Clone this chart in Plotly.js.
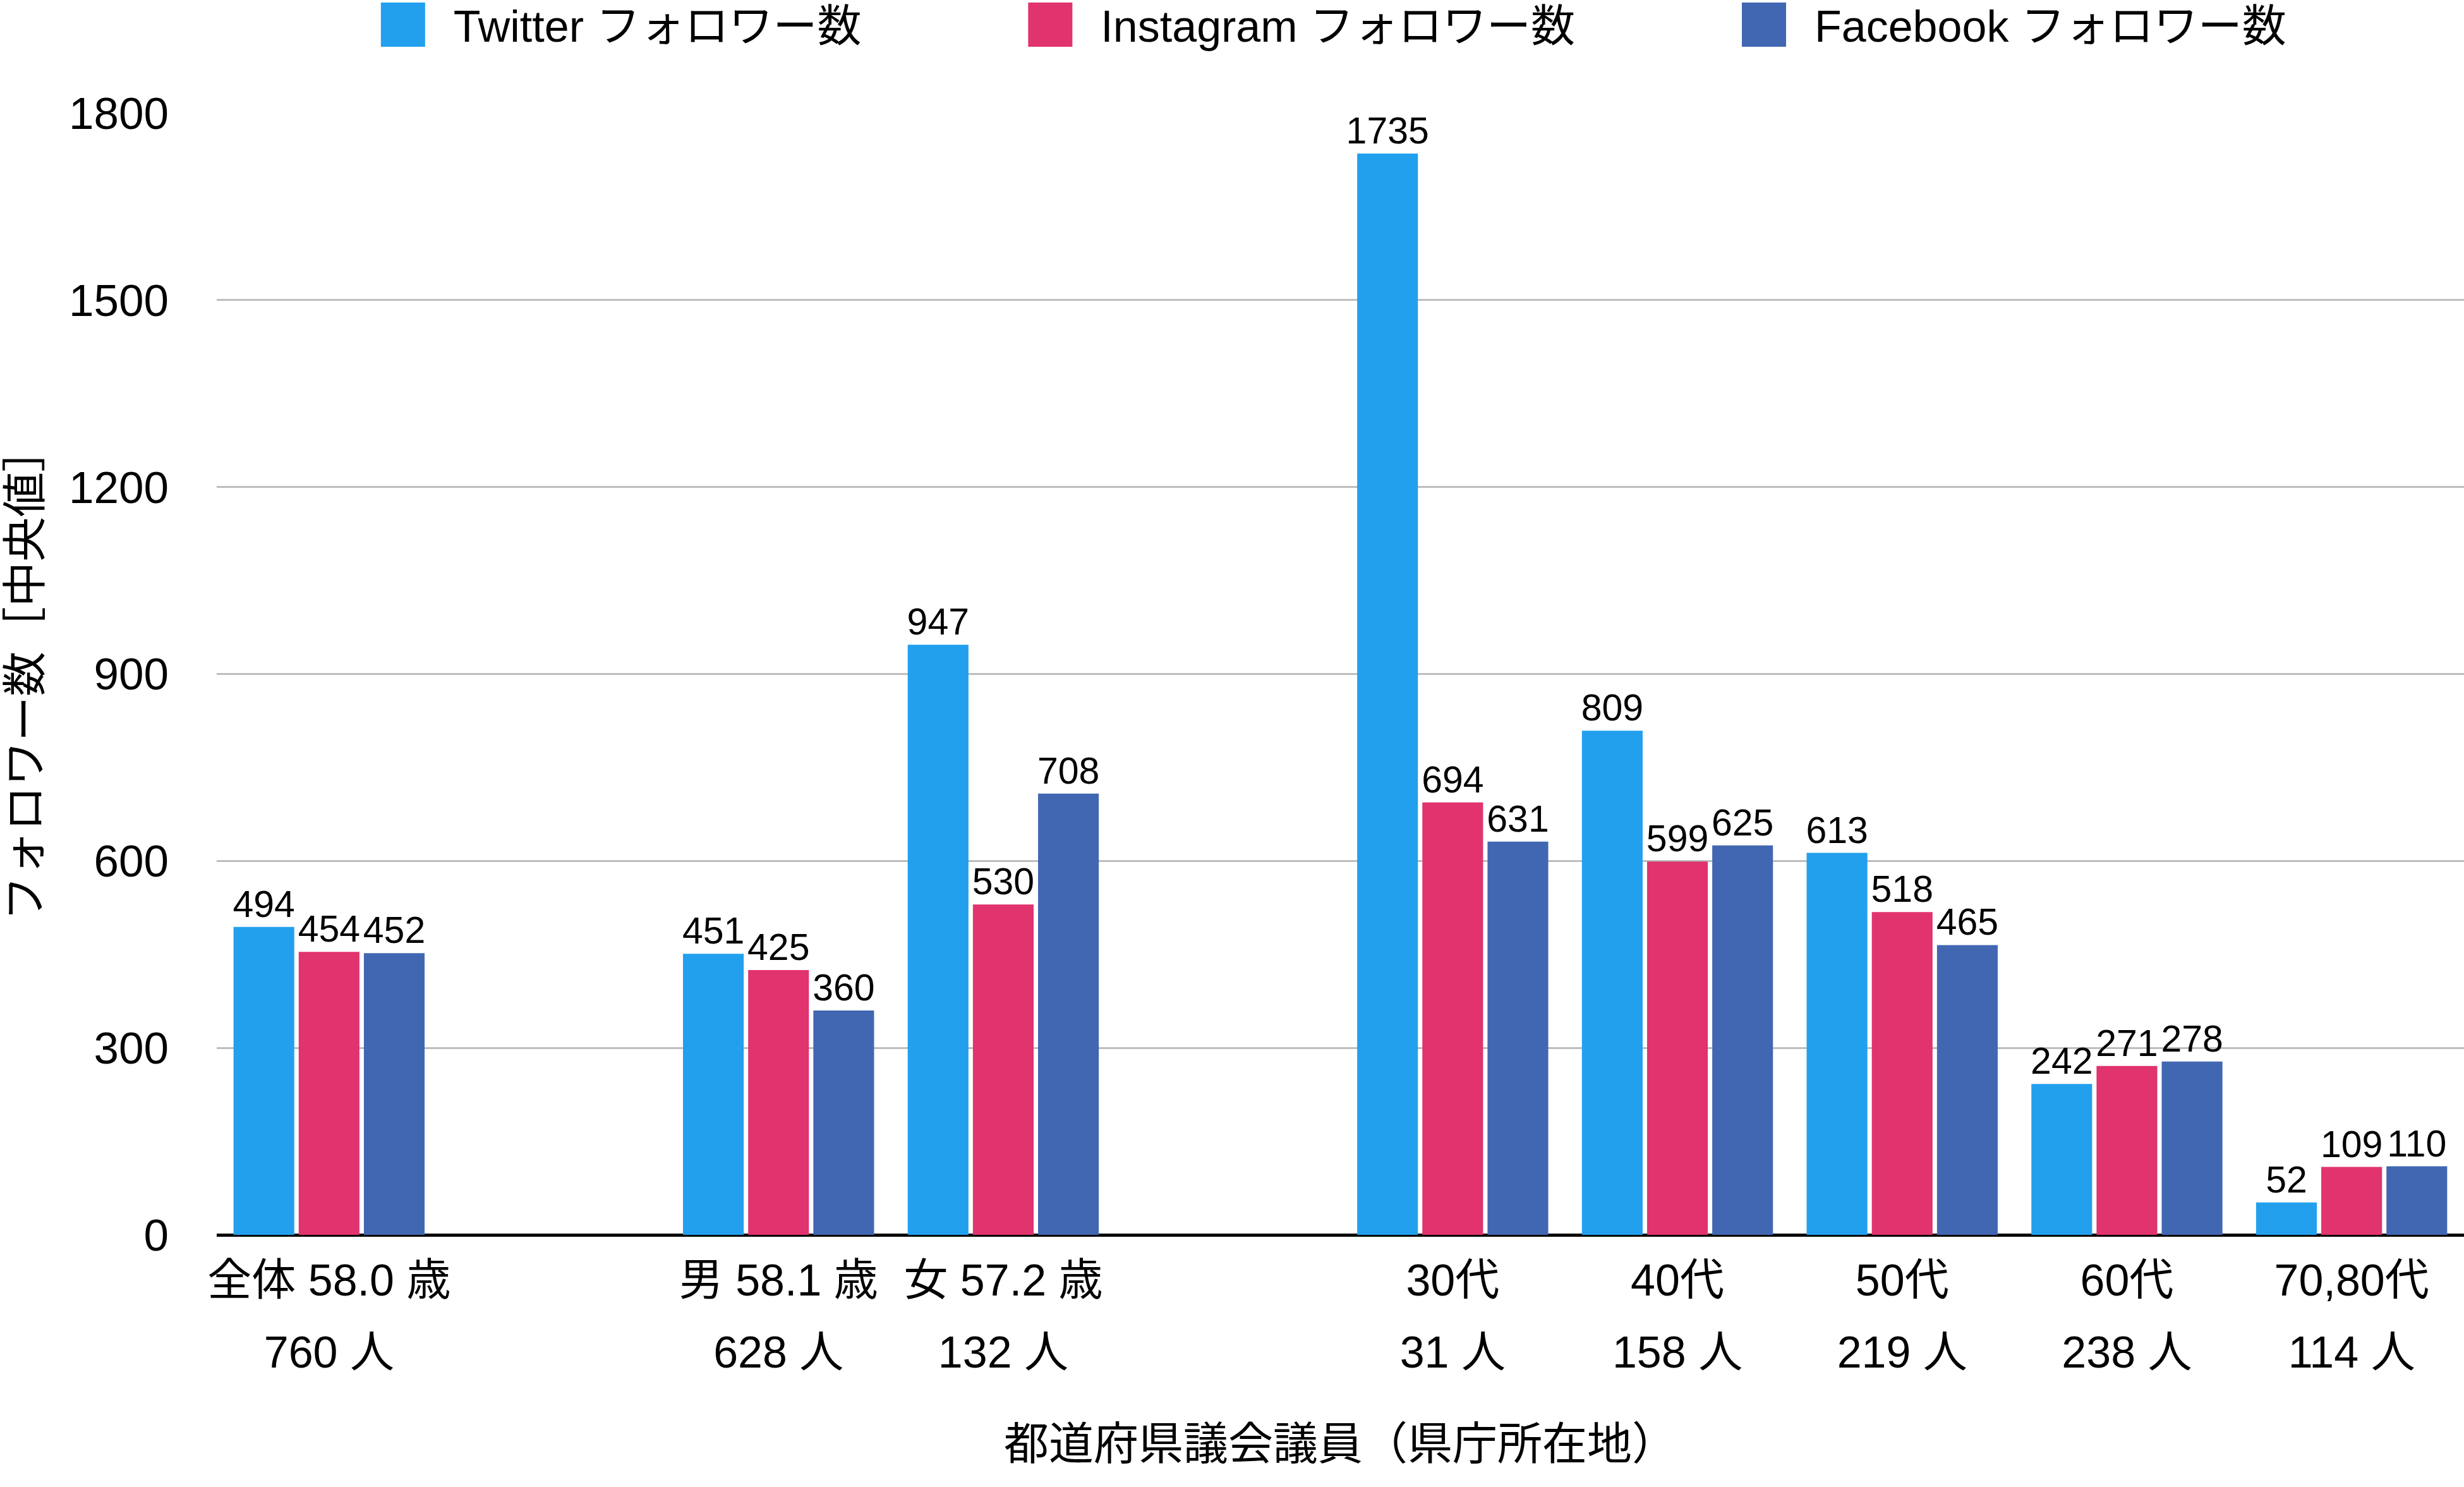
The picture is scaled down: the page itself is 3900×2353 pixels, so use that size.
<!DOCTYPE html>
<html>
<head>
<meta charset="utf-8">
<script src="https://cdn.plot.ly/plotly-3.0.1.min.js"></script>
<style>
  html, body { margin: 0; padding: 0; background: #ffffff; }
  #chart { width: 3900px; height: 2353px; }
</style>
</head>
<body>
<div id="chart"></div>
<script>
// ---- data ----
const categoryKeys = ['全体', 'gap1', '男', '女', 'gap2', '30代', '40代', '50代', '60代', '70,80代'];
const labelLine1   = ['全体 58.0 歳', '', '男 58.1 歳', '女 57.2 歳', '', '30代', '40代', '50代', '60代', '70,80代'];
const labelLine2   = ['760 人', '', '628 人', '132 人', '', '31 人', '158 人', '219 人', '238 人', '114 人'];

const twitterFollowers   = [494, null, 451, 947, null, 1735, 809, 613, 242, 52];
const instagramFollowers = [454, null, 425, 530, null, 694, 599, 518, 271, 109];
const facebookFollowers  = [452, null, 360, 708, null, 631, 625, 465, 278, 110];

const seriesNames  = ['Twitter フォロワー数', 'Instagram フォロワー数', 'Facebook フォロワー数'];
const seriesColors = ['#22A0EE', '#E1336D', '#4267B2'];

const yTickValues = [0, 300, 600, 900, 1200, 1500, 1800];
const xAxisTitle = '都道府県議会議員（県庁所在地）';
const yAxisTitle = 'フォロワー数［中央値］';

// ---- build ----
const FONT = '"Liberation Sans", "Noto Sans CJK JP", sans-serif';
const legendPad = '\u00a0'.repeat(11);

const tickText = labelLine1.map((l1, i) => {
  if (!l1 && !labelLine2[i]) return '';
  return '<span style="font-size:70px">' + l1 + '</span><br><span style="font-size:70px">' + labelLine2[i] + '</span>';
});

const seriesValues = [twitterFollowers, instagramFollowers, facebookFollowers];
const traces = seriesValues.map((vals, k) => ({
  type: 'bar',
  name: seriesNames[k] + legendPad,
  x: categoryKeys,
  y: vals,
  marker: { color: seriesColors[k], line: { width: 0 } },
  text: vals.map(v => (v === null ? '' : String(v))),
  textposition: 'outside',
  textfont: { family: FONT, size: 59, color: '#000000' },
  constraintext: 'none',
  cliponaxis: false,
  hoverinfo: 'skip'
}));

const layout = {
  width: 3900,
  height: 2353,
  paper_bgcolor: '#ffffff',
  plot_bgcolor: '#ffffff',
  font: { family: FONT, color: '#000000', size: 70 },
  margin: { l: 343, r: 0, t: 179, b: 399, pad: 0, autoexpand: false },
  barmode: 'group',
  bargap: 0.13,
  bargroupgap: 0.068,
  showlegend: true,
  legend: {
    orientation: 'h',
    x: 0.0604,
    xanchor: 'left',
    y: 1.1081,
    yanchor: 'top',
    font: { family: FONT, size: 70, color: '#000000' },
    itemwidth: 150,
    bgcolor: 'rgba(0,0,0,0)',
    borderwidth: 0
  },
  xaxis: {
    type: 'category',
    categoryorder: 'array',
    categoryarray: categoryKeys,
    tickmode: 'array',
    tickvals: categoryKeys,
    ticktext: tickText,
    tickangle: 0,
    ticks: '',
    showgrid: false,
    showline: false,
    zeroline: false,
    tickfont: { family: FONT, size: 88, color: '#000000' },
    ticklabelstandoff: 7,
    title: { text: xAxisTitle, font: { family: FONT, size: 71, color: '#000000' }, standoff: 80 },
    automargin: false,
    fixedrange: true
  },
  yaxis: {
    range: [0, 1800],
    tickmode: 'array',
    tickvals: yTickValues,
    ticktext: yTickValues.map(String),
    ticks: '',
    showgrid: true,
    gridcolor: '#BDBDBD',
    gridwidth: 3,
    zeroline: true,
    zerolinecolor: '#000000',
    zerolinewidth: 5,
    showline: false,
    tickfont: { family: FONT, size: 71, color: '#000000' },
    ticklabelstandoff: 75,
    title: { text: yAxisTitle, font: { family: FONT, size: 71, color: '#000000' }, standoff: 48 },
    automargin: false,
    fixedrange: true
  }
};

Plotly.newPlot('chart', traces, layout, { displayModeBar: false, staticPlot: true }).then(gd => {
  // enlarge the legend colour swatches to match the reference's large squares
  gd.querySelectorAll('.legend .legendpoints path').forEach(p => {
    p.setAttribute('d', 'M35,35H-35V-35H35Z');
  });
});
</script>
</body>
</html>
